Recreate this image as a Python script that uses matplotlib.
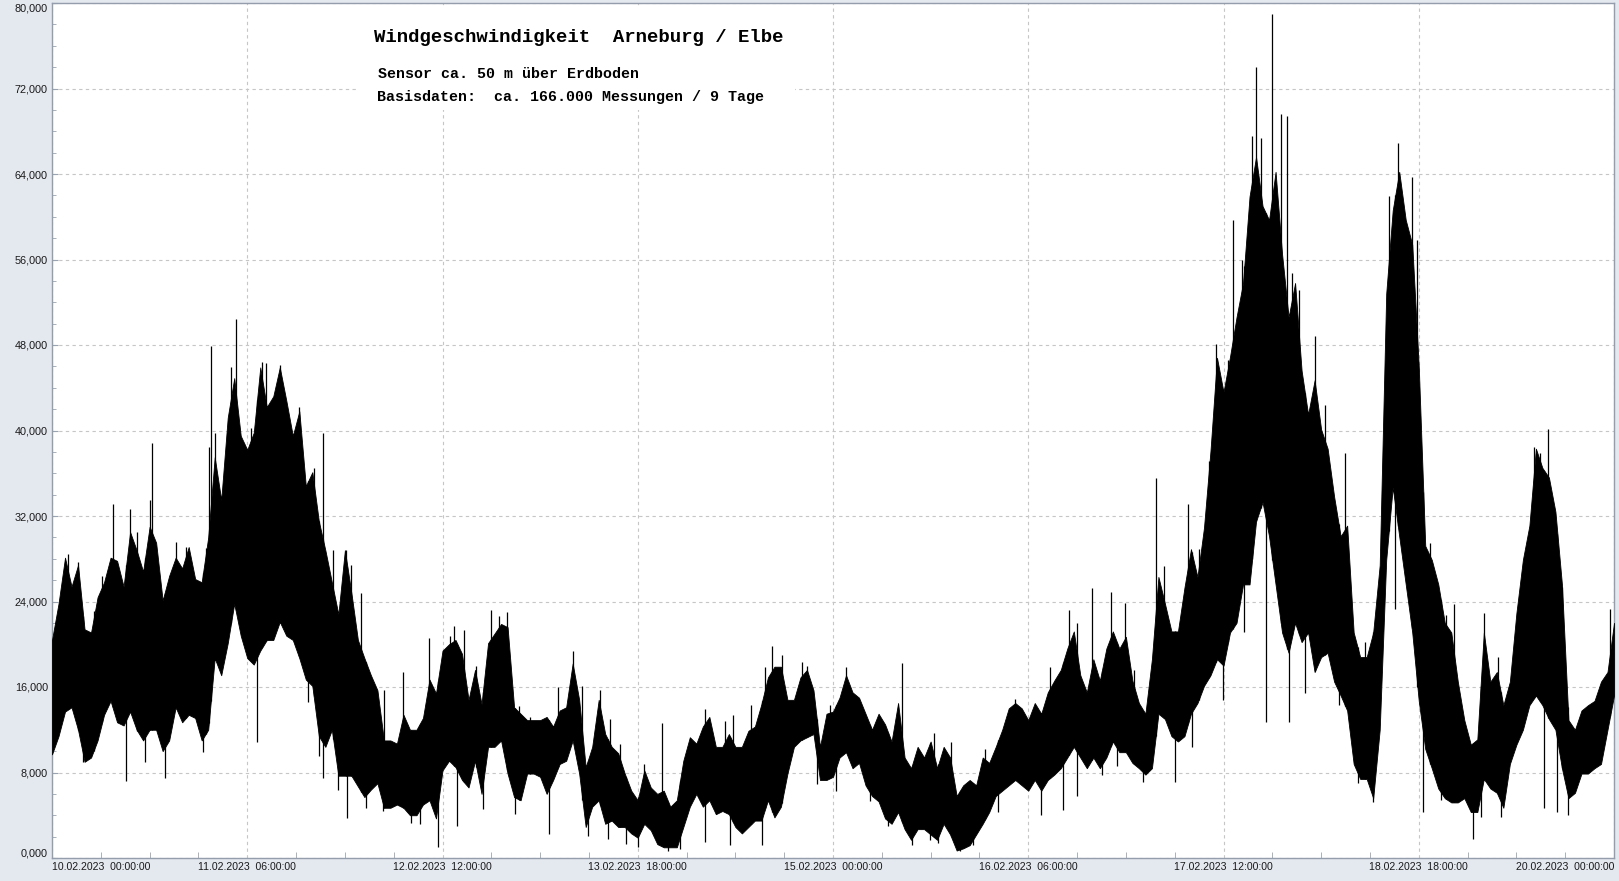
import numpy as np
import matplotlib
matplotlib.use('Agg')
from matplotlib import pyplot as plt
from matplotlib.patches import Rectangle
from matplotlib.ticker import MultipleLocator, FuncFormatter

plt.rcParams['font.family'] = ['Liberation Sans', 'DejaVu Sans']

# Stunden ab 10.02.2023 00:00, obere / untere Huellkurve der Messwerte
hours = np.arange(241)
upper = [20400, 23800, 28100, 25400, 27400, 21400, 21100, 24400, 25800, 28100,
         27800, 25400, 30500, 28800, 26800, 31000, 29500, 24100, 26400, 28100,
         27100, 29100, 26100, 25800, 30000, 37500, 33500, 41200, 44900, 39500,
         38200, 39800, 45900, 42200, 43200, 45900, 42800, 39500, 41800, 34800,
         36100, 31500, 28800, 25800, 22800, 28800, 24800, 20400, 18700, 17100,
         15700, 11000, 11000, 10700, 13400, 12000, 12000, 13100, 16700, 15400,
         19400, 20000, 20400, 19100, 14800, 17600, 14400, 20100, 21000, 21900,
         21600, 14100, 13500, 12900, 12900, 12900, 13200, 12300, 13800, 14100,
         18200, 14800, 8500, 10400, 14800, 11600, 10400, 9800, 7900, 6300,
         5400, 8200, 6600, 6000, 6300, 4800, 5400, 9100, 11300, 10700,
         12300, 13200, 10400, 10400, 11600, 10400, 10400, 11900, 12300, 14400,
         16900, 17900, 17900, 14800, 14800, 16900, 17600, 15700, 10400, 13500,
         13700, 15000, 17100, 15500, 15000, 13500, 12000, 13500, 12500, 10900,
         14500, 9400, 8400, 10400, 9400, 10900, 8400, 10400, 9400, 5800,
         6800, 7300, 6800, 9400, 8900, 10400, 12000, 14000, 14500, 14000,
         12900, 14500, 13500, 15500, 16600, 17600, 19600, 21200, 17100, 15500,
         18600, 16600, 19600, 21200, 19600, 20700, 16600, 14500, 13500, 18600,
         26300, 23800, 21200, 21200, 25300, 28900, 26300, 30900, 38100, 46800,
         43600, 46900, 50600, 53800, 61900, 65600, 61000, 59700, 64200, 56500,
         50600, 53800, 45600, 41500, 44700, 40100, 38300, 33800, 30100, 31100,
         21100, 18800, 18800, 21100, 27400, 52800, 60600, 64200, 59700, 57400,
         46000, 29200, 27900, 25600, 22000, 21100, 16500, 12900, 10600, 11100,
         21100, 16500, 17400, 14300, 16500, 22900, 27900, 31100, 38300, 36500,
         35600, 32400, 25600, 12900, 12000, 13800, 14300, 14700, 16500, 17400,
         22000]
lower = [9700, 11400, 13700, 14100, 12000, 9000, 9400, 11000, 13400, 14700,
         12700, 12400, 13700, 12000, 11000, 12000, 12000, 10000, 11000, 14100,
         12700, 13400, 13100, 11000, 12000, 18700, 17100, 20100, 23800, 20800,
         18700, 18100, 19400, 20400, 20400, 22100, 20800, 20400, 18700, 16700,
         16100, 11400, 10400, 12000, 7700, 7700, 7700, 6700, 5700, 6400,
         7000, 4700, 4700, 5000, 4700, 4000, 4000, 5000, 5400, 3700,
         8200, 9100, 8500, 7300, 6600, 9100, 6000, 10400, 10400, 11000,
         7900, 5700, 5400, 7900, 7900, 7600, 6000, 7300, 8800, 9100,
         11000, 7900, 2900, 4800, 5400, 3200, 3500, 2900, 2900, 2300,
         1900, 3200, 2600, 1300, 1000, 1000, 1000, 2900, 4800, 6000,
         4800, 5400, 4100, 4400, 4100, 2900, 2300, 2900, 3500, 3500,
         5400, 3800, 4800, 7900, 10400, 11000, 11300, 11600, 7300, 7300,
         7600, 9400, 9900, 8400, 8900, 6800, 5800, 5300, 3700, 3200,
         4300, 2700, 1700, 2700, 2700, 2200, 1700, 3200, 2200, 700,
         900, 1200, 2200, 3200, 4300, 5800, 6300, 6800, 7300, 6800,
         6300, 7300, 6300, 7300, 7800, 8400, 9400, 10400, 9400, 8400,
         9400, 8400, 9400, 10900, 9900, 9900, 8900, 8400, 7800, 8400,
         13500, 13000, 11400, 10900, 11400, 13500, 14500, 16100, 17100, 18600,
         18000, 21100, 22000, 25600, 25600, 31500, 33300, 30100, 25600, 21100,
         19200, 22000, 20200, 21100, 17400, 18800, 19200, 16500, 15200, 13800,
         8800, 7400, 7400, 5600, 12000, 27900, 34700, 30100, 25600, 21100,
         14700, 10200, 8400, 6500, 5600, 5200, 5200, 5600, 4300, 4300,
         7400, 6500, 6100, 4700, 8800, 10600, 12000, 14300, 15200, 14300,
         13000, 12000, 8400, 5600, 6100, 7900, 7900, 8400, 8800, 12000,
         15200]

# einzelne Ausreisser nach oben
spike_up_t = [2.5, 4.0, 6.4, 7.7, 9.3, 12.0, 13.1, 15.0, 15.4, 19.0,
              20.6, 23.6, 24.1, 24.4, 25.1, 27.5, 28.2, 30.5, 32.3, 32.9,
              35.1, 37.9, 40.2, 41.6, 43.2, 45.1, 46.0, 47.5, 51.0, 54.0,
              58.0, 61.1, 61.8, 63.3, 65.2, 67.4, 68.7, 69.9, 71.8, 73.4,
              77.8, 80.0, 81.5, 84.2, 85.8, 87.3, 91.0, 93.7, 100.3, 103.4,
              104.6, 107.4, 109.6, 110.7, 112.1, 115.2, 116.0, 119.6, 122.0, 130.6,
              135.5, 138.1, 143.4, 148.0, 153.4, 156.2, 157.5, 159.8, 162.7, 164.9,
              166.3, 169.6, 170.8, 174.6, 176.2, 177.8, 178.8, 180.7, 181.4, 182.9,
              184.4, 185.0, 185.7, 187.5, 188.8, 189.8, 190.6, 191.6, 194.1, 195.6,
              198.7, 201.8, 205.4, 206.8, 208.9, 209.8, 211.8, 214.2, 215.4, 220.1,
              222.1, 227.7, 228.6, 229.9, 232.0, 239.4]
spike_up_v = [28400, 27700, 23100, 26400, 33100, 32700, 30500, 33500, 38800, 29600,
              29100, 29000, 38500, 47900, 39800, 45900, 50400, 40200, 46400, 46300,
              46100, 42200, 36500, 39800, 28800, 28800, 27400, 24800, 15700, 17400,
              20600, 20800, 21700, 21300, 18000, 23200, 22600, 23000, 14200, 13200,
              16000, 19400, 16100, 15700, 13000, 10700, 8800, 12600, 13900, 12800,
              13400, 14300, 17900, 19800, 19000, 18300, 18000, 14300, 17900, 18200,
              11700, 10900, 10200, 14900, 17900, 23200, 22000, 25300, 24900, 23900,
              17600, 35600, 27300, 33100, 28900, 37100, 48100, 46600, 59700, 56000,
              67600, 74000, 67400, 79000, 69600, 69400, 54700, 53100, 48800, 42400,
              37900, 20200, 61900, 66900, 63700, 57800, 29500, 22700, 23800, 22900,
              18800, 38500, 37900, 40100, 25400, 23300]
# einzelne Ausreisser nach unten
spike_down_t = [4.8, 11.4, 14.3, 17.3, 23.2, 31.5, 39.4, 41.0, 41.6, 44.0,
                45.4, 48.2, 50.9, 55.2, 56.5, 59.3, 62.3, 66.2, 71.1, 76.3,
                82.3, 85.4, 88.2, 90.1, 94.7, 96.5, 100.4, 104.2, 109.1, 117.5,
                120.5, 125.7, 128.5, 132.1, 134.9, 136.2, 139.5, 141.5, 145.4, 151.9,
                155.3, 157.5, 161.3, 163.7, 167.7, 172.6, 175.1, 179.9, 183.2, 186.5,
                190.0, 192.5, 197.7, 200.6, 203.0, 206.4, 210.7, 213.4, 218.3, 219.5,
                222.6, 229.3, 231.3, 232.9]
spike_down_v = [9000, 7200, 9000, 7500, 9900, 10900, 14600, 9500, 7500, 6400,
                3700, 4700, 4400, 3300, 3200, 1000, 3000, 4600, 4100, 2200,
                2100, 1800, 1300, 1000, 700, 800, 1500, 1200, 1200, 6900,
                6300, 5300, 3000, 1200, 1700, 1400, 700, 1200, 4300, 4000,
                4500, 5800, 7800, 8600, 7100, 7100, 10400, 14800, 21100, 12700,
                12700, 15400, 14300, 7000, 5200, 23300, 4300, 5400, 1800, 3800,
                3800, 4700, 4300, 4000]

tick_hours = [0, 30, 60, 90, 120, 150, 180, 210, 240]
tick_labels = ['10.02.2023  00:00:00', '11.02.2023  06:00:00', '12.02.2023  12:00:00',
               '13.02.2023  18:00:00', '15.02.2023  00:00:00', '16.02.2023  06:00:00',
               '17.02.2023  12:00:00', '18.02.2023  18:00:00', '20.02.2023  00:00:00']
y_ticks = list(range(0, 80001, 8000))

title = 'Windgeschwindigkeit  Arneburg / Elbe'
line2 = 'Sensor ca. 50 m über Erdboden'
line3 = 'Basisdaten:  ca. 166.000 Messungen / 9 Tage'

W, H = 1619, 881
fig = plt.figure(figsize=(W / 100, H / 100), dpi=100, facecolor='#e4e8ef')
ax = fig.add_axes([52 / W, 1 - 858 / H, 1562 / W, 855 / H])
ax.set_facecolor('white')

# Messwerte als schwarzes Band mit Nadeln
ax.fill_between(hours, lower, upper, color='black', linewidth=0.6, zorder=3)
ax.vlines(spike_up_t, np.interp(spike_up_t, hours, lower), spike_up_v,
          color='black', linewidth=0.9, zorder=3)
ax.vlines(spike_down_t, spike_down_v, np.interp(spike_down_t, hours, upper),
          color='black', linewidth=0.9, zorder=3)

ax.set_xlim(0, 240)
ax.set_ylim(0, 80000)
ax.set_xticks(tick_hours)
ax.set_xticklabels(tick_labels)
ax.xaxis.set_minor_locator(MultipleLocator(7.5))
ax.set_yticks(y_ticks)
ax.yaxis.set_major_formatter(FuncFormatter(lambda v, p: f'{v / 1000:.3f}'.replace('.', ',')))
ax.yaxis.set_minor_locator(MultipleLocator(2000))

ax.set_axisbelow(True)
ax.grid(True, which='major', color='#c6c6c6', linestyle=(0, (3, 3)), linewidth=0.8)
ax.tick_params(which='both', direction='in', color='#9aa3b0', labelcolor='#1a1a1a')
ax.tick_params(axis='x', which='major', length=0, labelsize=7.6, pad=3)
ax.tick_params(axis='x', which='minor', length=4)
ax.tick_params(axis='y', which='major', length=4, labelsize=7.8, pad=3)
ax.tick_params(axis='y', which='minor', length=3)
for s in ax.spines.values():
    s.set_color('#939dab')
    s.set_linewidth(1.0)

xl = ax.get_xticklabels()
xl[0].set_ha('left')
xl[-1].set_ha('right')
yl = ax.get_yticklabels()
yl[0].set_va('bottom')
yl[-1].set_va('top')

# weisser Kasten hinter der Ueberschrift
ax.add_patch(Rectangle(((358 - 52) / 1562, (858 - 110) / 855), 437 / 1562, 103 / 855,
                       transform=ax.transAxes, facecolor='white', edgecolor='none', zorder=1))
fig.text(374 / W, 1 - 37 / H, title, family='Liberation Mono', weight='bold',
         fontsize=13.7, ha='left', va='center', color='black')
fig.text(378 / W, 1 - 74 / H, line2, family='Liberation Mono', weight='bold',
         fontsize=10.8, ha='left', va='center', color='black')
fig.text(377 / W, 1 - 97 / H, line3, family='Liberation Mono', weight='bold',
         fontsize=10.8, ha='left', va='center', color='black')

fig.savefig('out.png', dpi=100, facecolor=fig.get_facecolor())
